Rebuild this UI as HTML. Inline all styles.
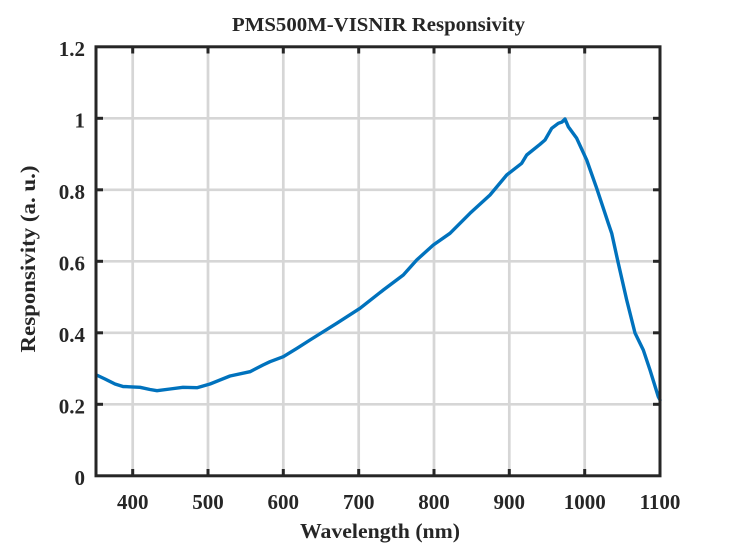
<!DOCTYPE html>
<html>
<head>
<meta charset="utf-8">
<style>
html,body{margin:0;padding:0;background:#fff;}
svg{display:block;}
text{font-family:"Liberation Serif","Times New Roman",serif;font-weight:bold;fill:#262626;}
</style>
</head>
<body>
<svg width="729" height="554" viewBox="0 0 729 554" xmlns="http://www.w3.org/2000/svg">
<rect width="729" height="554" fill="#fff"/>
<!-- grid -->
<g stroke="#d6d6d6" stroke-width="2.7">
<line x1="132.7" y1="46.8" x2="132.7" y2="475.8"/>
<line x1="208" y1="46.8" x2="208" y2="475.8"/>
<line x1="283.3" y1="46.8" x2="283.3" y2="475.8"/>
<line x1="358.7" y1="46.8" x2="358.7" y2="475.8"/>
<line x1="434" y1="46.8" x2="434" y2="475.8"/>
<line x1="509.3" y1="46.8" x2="509.3" y2="475.8"/>
<line x1="584.7" y1="46.8" x2="584.7" y2="475.8"/>
<line x1="96" y1="404.3" x2="660" y2="404.3"/>
<line x1="96" y1="332.8" x2="660" y2="332.8"/>
<line x1="96" y1="261.3" x2="660" y2="261.3"/>
<line x1="96" y1="189.8" x2="660" y2="189.8"/>
<line x1="96" y1="118.3" x2="660" y2="118.3"/>
</g>
<!-- curve -->
<polyline fill="none" stroke="#0072BD" stroke-width="3.4" stroke-linejoin="round" stroke-linecap="round"
points="96.5,375 105,379 115,384 123,386.5 140,387.3 150,389.5 157,390.7 170,389 183,387.3 197,387.7 210,384 230,376 250,371.7 263,365 270,361.7 283.3,356.7 297,348.3 310,340 336.7,323.3 360,308.3 383.3,290 403.3,275 416.7,260 433.3,245 450,233.3 470,213.3 490,195 506.7,175 521.7,163.3 526.7,155 540,144.3 545,140 551.7,128.3 558.3,123.3 562,122 565,119 568.3,126.7 576.7,138.3 586.7,160 596.7,188.3 605,213.3 608.3,223.3 611.7,233.3 618.3,263.3 626.7,300 635,333 643.3,350 650,370 658.3,396.7 660,400"/>
<!-- axes box -->
<rect x="96" y="46.8" width="564" height="429" fill="none" stroke="#262626" stroke-width="3"/>
<!-- ticks -->
<g stroke="#262626" stroke-width="3">
<line x1="132.7" y1="475.8" x2="132.7" y2="469"/><line x1="132.7" y1="46.8" x2="132.7" y2="53.5"/>
<line x1="208" y1="475.8" x2="208" y2="469"/><line x1="208" y1="46.8" x2="208" y2="53.5"/>
<line x1="283.3" y1="475.8" x2="283.3" y2="469"/><line x1="283.3" y1="46.8" x2="283.3" y2="53.5"/>
<line x1="358.7" y1="475.8" x2="358.7" y2="469"/><line x1="358.7" y1="46.8" x2="358.7" y2="53.5"/>
<line x1="434" y1="475.8" x2="434" y2="469"/><line x1="434" y1="46.8" x2="434" y2="53.5"/>
<line x1="509.3" y1="475.8" x2="509.3" y2="469"/><line x1="509.3" y1="46.8" x2="509.3" y2="53.5"/>
<line x1="584.7" y1="475.8" x2="584.7" y2="469"/><line x1="584.7" y1="46.8" x2="584.7" y2="53.5"/>
<line x1="96" y1="404.3" x2="103" y2="404.3"/><line x1="660" y1="404.3" x2="653" y2="404.3"/>
<line x1="96" y1="332.8" x2="103" y2="332.8"/><line x1="660" y1="332.8" x2="653" y2="332.8"/>
<line x1="96" y1="261.3" x2="103" y2="261.3"/><line x1="660" y1="261.3" x2="653" y2="261.3"/>
<line x1="96" y1="189.8" x2="103" y2="189.8"/><line x1="660" y1="189.8" x2="653" y2="189.8"/>
<line x1="96" y1="118.3" x2="103" y2="118.3"/><line x1="660" y1="118.3" x2="653" y2="118.3"/>
</g>
<!-- y tick labels -->
<g font-size="21" text-anchor="end">
<text x="85" y="485">0</text>
<text x="85" y="413.5">0.2</text>
<text x="85" y="342">0.4</text>
<text x="85" y="270.5">0.6</text>
<text x="85" y="199">0.8</text>
<text x="85" y="127.5">1</text>
<text x="85" y="56">1.2</text>
</g>
<!-- x tick labels -->
<g font-size="21" text-anchor="middle">
<text x="132.7" y="509">400</text>
<text x="208" y="509">500</text>
<text x="283.3" y="509">600</text>
<text x="358.7" y="509">700</text>
<text x="434" y="509">800</text>
<text x="509.3" y="509">900</text>
<text x="584.7" y="509">1000</text>
<text x="660" y="509">1100</text>
</g>
<text x="378.5" y="31" font-size="19.5" text-anchor="middle" textLength="293" lengthAdjust="spacingAndGlyphs">PMS500M-VISNIR Responsivity</text>
<text x="380" y="538" font-size="21.5" text-anchor="middle" textLength="160" lengthAdjust="spacingAndGlyphs">Wavelength (nm)</text>
<text transform="translate(35,259) rotate(-90)" font-size="21" text-anchor="middle" textLength="187" lengthAdjust="spacingAndGlyphs">Responsivity (a. u.)</text>
</svg>
</body>
</html>
